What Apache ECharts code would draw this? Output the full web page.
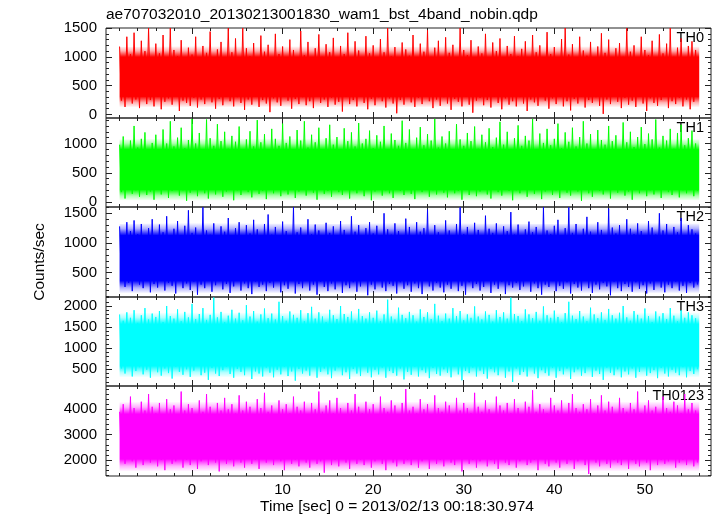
<!DOCTYPE html>
<html><head><meta charset="utf-8">
<script src="https://cdn.jsdelivr.net/npm/echarts@6/dist/echarts.min.js"></script>
<style>html,body{margin:0;padding:0;background:#fff}#c{width:717px;height:516px}</style>
</head><body><div id="c"></div>
<script>
// ---------------- data ----------------
const chartTitle = "ae707032010_20130213001830_wam1_bst_4band_nobin.qdp";
const xName = "Time [sec] 0 = 2013/02/13 00:18:30.974";
const yName = "Counts/sec";
const channels = ["TH0", "TH1", "TH2", "TH3", "TH0123"];
const binStart = -8;      // first bin time [sec]
const binWidth = 0.2;     // bin spacing [sec]

const th0 = [
1180,240,980,130,1350,300,1050,190,1420,260,920,110,1280,330,1100,180,1500,250,990,140,
1230,310,1060,90,1380,220,950,280,1500,170,1120,330,1010,60,1290,240,880,200,1160,150,
1040,290,1350,120,930,260,1190,180,1070,340,1440,210,980,100,1130,270,1260,160,900,310,
1500,230,1080,140,1320,300,970,200,1500,80,1150,260,1010,170,1240,320,940,130,1370,250,
1090,190,1210,40,960,280,1400,210,1050,150,1180,320,920,240,1300,100,1120,270,990,180,
1450,300,1030,160,1260,230,910,110,1150,340,1390,200,1000,260,1220,130,1080,290,1330,170,
970,220,1190,50,1050,310,1420,180,930,250,1270,140,1110,330,990,200,1360,90,1060,270,
1200,160,940,300,1310,230,1080,120,1500,280,1010,190,1170,20,900,250,1250,170,1130,320,
1020,210,1380,130,960,290,1230,180,1090,340,1460,230,1000,110,1160,260,1280,150,950,300,
1340,190,1070,80,1210,270,980,220,1500,140,1120,310,1030,170,1290,30,920,240,1180,290,
1060,160,1400,250,990,120,1250,320,1100,200,1320,90,940,280,1190,170,1050,230,1360,140,
1010,300,1140,190,1270,60,930,260,1380,210,1080,150,1200,330,970,240,1430,100,1050,280,
1170,180,990,310,1310,140,1500,230,1040,70,1220,270,960,190,1350,320,1110,120,1020,250,
1260,200,940,300,1180,150,1410,10,1070,260,1300,180,980,340,1150,220,1240,110,1000,290,
1500,170,1090,240,1200,130,950,310,1350,190,1120,60,1030,280,1280,200,970,150,1390,250,
1060,320,1230,110,1500,230,1000,180,1160,290,1320,140,940,260,1190,90,1270,220,1120,300];

const th1 = [
980,170,1120,60,870,230,1050,140,1300,200,930,90,1080,250,1190,120,900,180,1010,40,
1150,210,890,130,1240,260,1000,70,1380,190,950,240,1100,110,1270,200,920,20,1060,160,
1420,230,1000,100,1180,250,880,150,1410,60,1090,210,960,130,1330,240,1040,90,1200,180,
910,260,1130,30,1030,200,1290,120,870,240,1070,170,1210,80,950,230,1400,140,1020,190,
1160,50,900,220,1250,150,1080,260,960,100,1340,200,1010,130,1120,240,890,70,1230,180,
1050,210,1380,110,930,250,1150,160,1020,40,1270,220,900,140,1090,190,1320,90,980,240,
1110,170,870,120,1260,230,1040,60,1190,200,950,150,1350,250,1000,100,1080,210,1220,30,
920,180,1140,240,1030,110,1300,200,880,150,1170,70,1060,260,960,190,1390,120,1010,230,
1240,140,900,50,1100,210,1280,170,970,240,1160,90,1050,200,1420,130,930,260,1120,160,
1000,80,1210,230,890,150,1330,190,1070,40,960,250,1180,120,1040,210,1290,100,910,180,
1150,250,1020,130,1260,60,940,220,1100,170,1370,110,980,240,1200,190,880,30,1090,200,
1310,150,960,260,1130,90,1050,210,1420,140,900,230,1170,50,1010,180,1250,250,970,120,
1080,200,1340,70,920,240,1190,160,1030,110,1270,220,950,180,1110,20,1380,230,1000,150,
1160,90,890,250,1230,190,1060,130,980,240,1300,60,1040,210,1140,160,900,230,1360,110,
1020,180,1200,40,940,220,1110,150,1280,250,990,100,1170,200,1070,130,1410,240,930,70,
1130,210,1050,170,1250,120,910,260,1180,80,1320,200,970,150,1090,230,1220,100,1000,190];

const th2 = [
1280,380,1100,260,1350,330,1200,190,1380,410,1150,300,1320,240,1090,360,1250,170,1400,310,
1130,250,1310,420,1180,200,1450,330,1060,280,1240,150,1370,390,1120,240,1290,320,1550,210,
1170,350,1260,130,1090,300,1600,240,1210,400,1140,180,1330,290,1020,360,1280,220,1190,310,
1420,160,1110,270,1250,380,1350,200,1080,320,1300,240,1160,140,1390,350,1230,260,1070,300,
1320,190,1480,330,1140,250,1270,410,1050,170,1360,290,1200,230,1120,370,1600,150,1180,310,
1260,240,1090,380,1400,200,1150,300,1310,130,1210,350,1040,260,1340,190,1170,320,1280,220,
1130,400,1370,160,1220,290,1060,240,1450,340,1190,180,1300,270,1100,380,1250,120,1350,300,
1160,220,1290,360,1080,250,1500,190,1230,310,1140,280,1330,150,1200,340,1060,230,1410,290,
1270,180,1110,320,1350,240,1190,140,1250,390,1560,270,1120,200,1300,330,1180,250,1080,170,
1380,300,1210,230,1130,360,1320,190,1600,280,1150,130,1270,340,1060,240,1340,310,1220,200,
1100,260,1460,380,1240,160,1170,300,1330,230,1090,350,1280,140,1200,290,1520,250,1140,330,
1310,210,1050,270,1230,400,1360,180,1180,320,1270,240,1120,130,1600,300,1210,260,1150,360,
1290,190,1390,280,1100,230,1250,340,1600,150,1170,310,1320,250,1080,200,1240,370,1440,240,
1190,160,1130,300,1350,220,1220,330,1070,270,1580,120,1260,350,1160,240,1300,190,1110,310,
1400,260,1240,180,1150,340,1330,230,1200,290,1060,150,1370,320,1260,210,1140,380,1500,250,
1210,170,1320,300,1090,240,1270,350,1180,200,1420,280,1120,160,1300,330,1230,250,1160,300];

const th3 = [
1800,520,1650,400,1850,580,1720,330,1900,460,1600,550,1780,380,1950,490,1680,300,1820,600,
1740,430,1880,350,1620,520,2000,410,1760,280,1700,560,1920,440,1640,370,1860,500,1730,320,
2050,470,1690,590,1810,360,1950,420,1670,250,1790,530,2200,400,1730,340,1860,480,1620,560,
1770,390,1910,300,1700,510,1840,440,1660,360,2020,580,1750,270,1880,450,1630,400,1800,330,
1940,540,1710,420,1820,310,1680,490,2100,380,1760,560,1650,340,1870,450,1790,230,1720,510,
1900,400,1640,470,1830,350,1980,580,1700,300,1850,440,1750,520,1620,380,1910,290,1780,470,
1690,550,2000,360,1810,430,1740,270,1870,510,1660,400,1930,340,1760,580,1700,420,1850,310,
1720,490,1890,380,1640,540,1800,300,2150,460,1750,410,1680,350,1960,520,1790,260,1710,440,
1860,370,1780,560,1630,330,1920,480,1740,420,1850,290,1690,530,2050,390,1770,350,1640,500,
1820,420,1700,310,1950,570,1760,380,1880,240,1660,460,1800,410,1720,540,1990,330,1750,470,
1680,390,1870,280,1790,510,1630,430,1900,360,1740,580,1850,300,1700,450,2200,200,1810,520,
1760,370,1640,440,1920,330,1800,550,1710,400,1860,290,1650,480,1990,410,1780,350,1720,530,
1890,300,1740,460,1620,380,1830,520,2100,270,1770,430,1690,500,1880,350,1750,410,1640,560,
1960,320,1800,470,1710,390,1850,250,1670,540,1930,420,1780,360,1700,500,1840,310,2000,450,
1730,380,1650,520,1880,300,1790,440,1700,570,1940,350,1760,410,1620,480,1870,290,1750,530,
1830,400,1690,330,1950,490,1770,420,1640,360,1900,550,1720,310,1850,460,1780,390,1710,500];

const th0123 = [
3900,2100,4200,1850,3800,2250,4500,1950,4050,1700,3750,2200,4300,1800,3950,2050,4600,1900,4100,2150,
3850,1750,4250,2000,3700,1600,4400,2200,4000,1850,4150,1950,3800,2100,4700,1700,3950,2000,4200,1800,
4050,2250,3800,1650,4350,1950,3900,2050,4600,1800,4100,2150,3750,1900,4250,1550,3950,2100,4450,1850,
4000,2000,4200,1750,3850,2200,4550,1900,3950,1700,4300,2100,4100,1850,3800,2000,4400,1650,4050,2150,
4650,1900,3900,2050,4150,1800,3750,2250,4350,1950,4000,1600,4200,2100,3850,1850,4500,2000,4100,1750,
3950,2200,4300,1900,3800,1700,4250,2050,4000,1850,4700,1950,3900,1500,4150,2150,4350,1800,3850,2000,
4450,1750,4050,2100,3750,1900,4250,1650,3950,2200,4600,1850,4100,2000,3850,1800,4300,2150,4000,1700,
4200,1950,3800,2050,4500,1850,4050,1600,3900,2100,4350,1900,4150,1750,3750,2200,4250,1850,4800,2000,
3950,1800,4100,2150,3850,1700,4400,1950,4000,2050,4200,1650,3800,2100,4550,1850,4050,2000,3900,1750,
4300,2200,4150,1900,3750,1800,4450,2050,3950,1550,4250,2150,4050,1850,3850,2000,4650,1700,4100,1950,
3900,2100,4350,1750,4000,2000,3800,1850,4500,1650,4150,2200,3950,1900,4250,1800,3850,2050,4400,1700,
4050,1950,3750,2150,4300,1800,4100,1900,4750,2000,3900,1600,4200,2100,4000,1850,3850,1750,4450,2050,
4150,1900,3950,1700,4350,2150,3800,1850,4250,2000,4600,1650,4050,1950,3900,2100,4200,1800,4000,1450,
4400,2050,3850,1900,4150,1750,4550,2150,3950,1850,4300,1700,4100,2000,3750,1900,4450,1800,4050,2100,
3900,1650,4250,2000,4000,1850,4700,1750,3850,2150,4150,1900,4350,1600,3950,2050,4100,1800,3800,2000,
4500,1850,4050,1950,3900,2100,4300,1700,4150,1900,3850,2000,4600,1800,4000,2150,4250,1750,3950,1900];

// envelope of the densely over-plotted region of each light curve, every 8 s
const bandTimes = [-8, 0, 8, 16, 24, 32, 40, 48, 56];
const th0BandLo = [130, 120, 135, 125, 130, 120, 135, 125, 130];
const th0BandHi = [1170, 1190, 1180, 1190, 1175, 1190, 1180, 1185, 1175];
const th1BandLo = [30, 20, 30, 25, 30, 20, 30, 25, 30];
const th1BandHi = [1070, 1090, 1080, 1085, 1070, 1080, 1090, 1080, 1070];
const th2BandLo = [160, 150, 160, 155, 160, 150, 160, 155, 160];
const th2BandHi = [1320, 1340, 1330, 1320, 1340, 1330, 1320, 1340, 1330];
const th3BandLo = [320, 300, 320, 310, 320, 300, 310, 320, 310];
const th3BandHi = [1830, 1850, 1840, 1830, 1850, 1840, 1830, 1850, 1840];
const thAllBandLo = [1560, 1540, 1560, 1550, 1560, 1540, 1550, 1560, 1550];
const thAllBandHi = [4280, 4310, 4290, 4280, 4310, 4290, 4280, 4310, 4290];

// axes
const xRange = [-9.5, 57.3];
const xMajorTicks = [0, 10, 20, 30, 40, 50];
const xMinorStep = 2;
const yRanges = [[-62, 1502], [-85, 1436], [91, 1606], [104, 2213], [1369, 4919]];
const yMajorTicks = [[0, 500, 1000, 1500], [0, 500, 1000], [500, 1000, 1500], [500, 1000, 1500, 2000], [2000, 3000, 4000]];
const yMinorSteps = [100, 100, 100, 100, 200];

// ---------------- layout / style ----------------
const FONT = '"Liberation Sans", Arial, Helvetica, sans-serif';
const colors = ['#ff0000', '#00ff00', '#0000ff', '#00ffff', '#ff00ff'];
const rgba = ['255,0,0', '0,255,0', '0,0,255', '0,255,255', '255,0,255'];
const tops = [28, 118, 207, 297, 386];
const bottoms = [118, 207, 297, 386, 476];
const PLOT_LEFT = 106, PLOT_RIGHT = 711;
const FRAME = '#222';

const curves = [th0, th1, th2, th3, th0123];
const bandsLo = [th0BandLo, th1BandLo, th2BandLo, th3BandLo, thAllBandLo];
const bandsHi = [th0BandHi, th1BandHi, th2BandHi, th3BandHi, thAllBandHi];

function minorList(lo, hi, step, majors) {
  const out = [];
  const start = Math.ceil(lo / step) * step;
  for (let v = start; v <= hi + 1e-9; v += step) {
    const r = Math.round(v * 1000) / 1000;
    if (!majors.some(m => Math.abs(m - r) < 1e-6)) out.push(r);
  }
  return out;
}
const xMinorTicks = minorList(-8, 56, xMinorStep, xMajorTicks);

const grids = [], xAxes = [], yAxes = [], series = [], graphics = [];
const plainLabel = v => String(v);

function tickAxisX(p, pos, ticks, len, withLabels) {
  return {
    type: 'value', gridIndex: p, position: pos, min: xRange[0], max: xRange[1],
    axisLine: { show: false, onZero: false }, splitLine: { show: false }, minorTick: { show: false },
    axisTick: { show: true, inside: true, length: len, customValues: ticks, lineStyle: { color: FRAME, width: 1 } },
    axisLabel: withLabels ? { show: true, customValues: ticks, formatter: plainLabel, fontSize: 15, color: '#000', margin: 6, fontFamily: FONT } : { show: false }
  };
}
function tickAxisY(p, pos, ticks, len, withLabels) {
  return {
    type: 'value', gridIndex: p, position: pos, min: yRanges[p][0], max: yRanges[p][1],
    axisLine: { show: false, onZero: false }, splitLine: { show: false }, minorTick: { show: false },
    axisTick: { show: true, inside: true, length: len, customValues: ticks, lineStyle: { color: FRAME, width: 1 } },
    axisLabel: withLabels ? { show: true, customValues: ticks, formatter: plainLabel, fontSize: 15, color: '#000', margin: 9, fontFamily: FONT } : { show: false }
  };
}

function bandRenderer(p) {
  const lo = bandsLo[p], hi = bandsHi[p], c = rgba[p];
  return function (params, api) {
    if (params.dataIndex !== 0) return null;
    const pts = [];
    for (let i = 0; i < bandTimes.length; i++) pts.push(api.coord([bandTimes[i], lo[i]]));
    for (let i = bandTimes.length - 1; i >= 0; i--) pts.push(api.coord([bandTimes[i], hi[i]]));
    return {
      type: 'polygon', shape: { points: pts },
      style: {
        fill: { type: 'linear', x: 0, y: 0, x2: 0, y2: 1, colorStops: [
          { offset: 0, color: 'rgba(' + c + ',0)' },
          { offset: 0.08, color: 'rgba(' + c + ',0.3)' },
          { offset: 0.18, color: 'rgba(' + c + ',1)' },
          { offset: 0.82, color: 'rgba(' + c + ',1)' },
          { offset: 0.92, color: 'rgba(' + c + ',0.3)' },
          { offset: 1, color: 'rgba(' + c + ',0)' }] },
        stroke: null
      }
    };
  };
}

for (let p = 0; p < 5; p++) {
  grids.push({
    left: PLOT_LEFT, width: PLOT_RIGHT - PLOT_LEFT, top: tops[p], height: bottoms[p] - tops[p],
    show: true, borderColor: FRAME, borderWidth: 1, backgroundColor: 'rgba(0,0,0,0)',
    containLabel: false, outerBoundsMode: 'none'
  });
  const yMinor = minorList(yRanges[p][0], yRanges[p][1], yMinorSteps[p], yMajorTicks[p]);
  xAxes.push(tickAxisX(p, 'bottom', xMajorTicks, 6, p === 4));
  xAxes.push(tickAxisX(p, 'bottom', xMinorTicks, 3, false));
  xAxes.push(tickAxisX(p, 'top', xMajorTicks, 6, false));
  xAxes.push(tickAxisX(p, 'top', xMinorTicks, 3, false));
  yAxes.push(tickAxisY(p, 'left', yMajorTicks[p], 6, true));
  yAxes.push(tickAxisY(p, 'left', yMinor, 3, false));
  yAxes.push(tickAxisY(p, 'right', yMajorTicks[p], 6, false));
  yAxes.push(tickAxisY(p, 'right', yMinor, 3, false));

  const ai = p * 4;
  series.push({
    type: 'custom', coordinateSystem: 'cartesian2d', xAxisIndex: ai, yAxisIndex: ai,
    silent: true, z: 1, clip: true, renderItem: bandRenderer(p),
    data: bandTimes.map((t, i) => [t, bandsLo[p][i], bandsHi[p][i]])
  });
  series.push({
    type: 'line', xAxisIndex: ai, yAxisIndex: ai, symbol: 'none', silent: true, z: 2,
    lineStyle: { color: colors[p], width: 1 },
    data: curves[p].map((v, i) => [binStart + i * binWidth, v])
  });

  graphics.push({
    type: 'text', x: 704, y: tops[p] + 10,
    style: { text: channels[p], fill: '#000', font: '14.5px ' + FONT, textAlign: 'right', textVerticalAlign: 'middle', align: 'right', verticalAlign: 'middle' }
  });
}

graphics.push({
  type: 'text', x: 106, y: 14.5,
  style: { text: chartTitle, fill: '#000', font: '15.5px ' + FONT, textAlign: 'left', textVerticalAlign: 'middle', align: 'left', verticalAlign: 'middle' }
});
graphics.push({
  type: 'text', x: 397, y: 507,
  style: { text: xName, fill: '#000', font: '15.5px ' + FONT, textAlign: 'center', textVerticalAlign: 'middle', align: 'center', verticalAlign: 'middle' }
});
graphics.push({
  type: 'text', x: 40, y: 262, rotation: Math.PI / 2,
  style: { text: yName, fill: '#000', font: '15.5px ' + FONT, textAlign: 'center', textVerticalAlign: 'middle', align: 'center', verticalAlign: 'middle' }
});

const chart = echarts.init(document.getElementById('c'), null, { renderer: 'canvas' });
chart.setOption({
  animation: false,
  backgroundColor: '#fff',
  textStyle: { fontFamily: FONT },
  grid: grids, xAxis: xAxes, yAxis: yAxes, series: series, graphic: graphics,
  tooltip: { show: false }, legend: { show: false }
});
</script></body></html>
